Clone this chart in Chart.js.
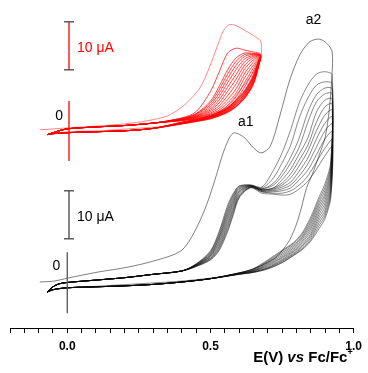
<!DOCTYPE html>
<html>
<head>
<meta charset="utf-8">
<script src="https://cdn.jsdelivr.net/npm/chart.js@4.4.1/dist/chart.umd.min.js"></script>
<style>
  html, body { margin: 0; padding: 0; background: #fff; }
  canvas { display: block; }
</style>
</head>
<body>
<canvas id="cv" width="368" height="373"></canvas>
<script>
// potentials in V vs Fc/Fc+, currents in µA

// first scan, black film
const blackFirstE = [-0.096, -0.045, 0.0, 0.11, 0.212, 0.315, 0.397, 0.442, 0.486, 0.521, 0.548, 0.579, 0.616, 0.651, 0.678, 0.709, 0.743, 0.777, 0.812, 0.846, 0.88, 0.908, 0.925,
  0.924, 0.915, 0.9, 0.88, 0.856, 0.835, 0.818, 0.8, 0.777, 0.75, 0.726, 0.69, 0.658, 0.6, 0.555, 0.5, 0.4, 0.3, 0.2, 0.1, 0.0, -0.05, -0.068];
const blackFirstI = [0, 0.2, 0.8, 2.1, 3.1, 4.6, 6.5, 10.2, 16.0, 22.3, 27.5, 31.0, 30.2, 27.9, 26.9, 28.3, 34.8, 42.1, 47.3, 50.0, 50.6, 49.6, 47.9,
  43, 36, 30, 26.5, 22.5, 19.5, 15.6, 12, 8.8, 6.5, 5.0, 3.8, 2.9, 1.8, 1.25, 0.8, 0.2, -0.2, -0.55, -0.9, -1.25, -1.6, -2.1];

// repeated scans, black: shared foot and tail, per-scan rise and fall
const blackFootE = [-0.07, -0.05, -0.03, 0.0, 0.1, 0.2, 0.3, 0.4];
const blackFootI = [-2.1, -1.0, -0.4, -0.1, 0.4, 0.9, 1.6, 2.3];
const blackRiseE = [0.45, 0.5, 0.53, 0.56, 0.58, 0.6, 0.64, 0.68, 0.72, 0.75, 0.78, 0.81, 0.84, 0.87, 0.9, 0.925];
const blackRise = [
  [3.8, 6.5, 10.5, 16.0, 18.5, 20.0, 20.2, 19.8, 23.3, 26.9, 31.7, 37.3, 41.0, 43.3, 43.8, 43.1],
  [3.7, 6.3, 10.1, 15.5, 18.2, 19.9, 20.2, 19.6, 21.7, 24.8, 28.5, 34.2, 38.3, 41.0, 41.7, 41.3],
  [3.7, 6.1, 9.7, 15.0, 17.9, 19.7, 20.1, 19.4, 20.6, 22.9, 26.0, 30.0, 35.4, 39.0, 40.4, 40.2],
  [3.6, 5.9, 9.3, 14.5, 17.5, 19.5, 20.1, 19.4, 20.2, 22.1, 24.8, 28.1, 33.3, 37.5, 39.2, 39.2],
  [3.6, 5.7, 9.0, 14.0, 17.1, 19.3, 20.0, 19.2, 19.6, 21.3, 23.5, 26.7, 30.0, 35.4, 37.9, 38.1],
  [3.5, 5.5, 8.6, 13.5, 16.7, 19.0, 20.0, 19.2, 19.6, 20.6, 22.5, 25.4, 28.5, 33.3, 36.5, 37.1],
  [3.5, 5.4, 8.2, 13.0, 16.3, 18.8, 19.9, 19.2, 19.4, 20.2, 21.7, 24.2, 27.3, 31.5, 34.8, 35.8],
  [3.4, 5.2, 7.8, 12.4, 15.8, 18.5, 19.9, 19.0, 19.2, 19.8, 20.8, 23.1, 25.8, 29.8, 33.1, 34.4],
  [3.4, 5.0, 7.4, 11.9, 15.3, 18.2, 19.8, 19.0, 19.0, 19.4, 20.2, 22.1, 24.6, 28.1, 31.5, 32.9],
  [3.3, 4.9, 7.1, 11.4, 14.9, 17.9, 19.7, 18.8, 18.8, 19.0, 19.6, 21.3, 23.3, 26.5, 29.8, 31.3],
  [3.3, 4.7, 6.8, 10.9, 14.4, 17.7, 19.7, 18.8, 18.5, 18.5, 19.0, 20.2, 22.1, 25.0, 27.9, 29.6],
  [3.2, 4.6, 6.5, 10.5, 14.0, 17.5, 19.6, 18.5, 18.3, 18.1, 18.3, 19.4, 21.0, 23.5, 26.3, 28.1]
];
const blackFallE = [0.92, 0.9, 0.88, 0.85, 0.82, 0.79, 0.75, 0.7, 0.65, 0.6];
const blackFall = [
  [25.0, 20.5, 17.8, 13.5, 10.2, 8.2, 6.6, 4.6, 2.8, 1.9],
  [24.3, 19.8, 17.2, 13.0, 9.9, 8.0, 6.4, 4.4, 2.7, 1.9],
  [23.6, 19.1, 16.6, 12.5, 9.5, 7.7, 6.1, 4.2, 2.6, 1.9],
  [23.0, 18.4, 16.0, 12.0, 9.2, 7.4, 5.8, 4.0, 2.5, 1.8],
  [22.3, 17.8, 15.4, 11.5, 8.9, 7.1, 5.5, 3.8, 2.4, 1.8],
  [21.6, 17.1, 14.8, 11.0, 8.5, 6.8, 5.2, 3.6, 2.3, 1.8],
  [20.9, 16.4, 14.2, 10.5, 8.2, 6.5, 5.0, 3.4, 2.3, 1.7],
  [20.2, 15.7, 13.6, 10.0, 7.8, 6.3, 4.7, 3.2, 2.2, 1.7],
  [19.5, 15.0, 13.0, 9.6, 7.5, 6.0, 4.5, 3.0, 2.1, 1.7],
  [18.8, 14.4, 12.4, 9.2, 7.2, 5.8, 4.3, 2.9, 2.1, 1.6],
  [18.1, 13.8, 11.8, 8.8, 6.9, 5.6, 4.1, 2.8, 2.0, 1.6],
  [17.5, 13.2, 11.2, 8.5, 6.7, 5.5, 4.0, 2.7, 2.0, 1.6]
];
const blackTailE = [0.5, 0.4, 0.3, 0.2, 0.1, 0.0, -0.05, -0.07];
const blackTailI = [0.7, 0.0, -0.5, -0.8, -1.0, -1.2, -1.6, -2.1];

// first scan, red film
const redFirstE = [-0.096, -0.045, 0.0, 0.11, 0.202, 0.281, 0.349, 0.397, 0.435, 0.466, 0.493, 0.51, 0.527, 0.545, 0.565, 0.589, 0.623, 0.651, 0.675,
  0.678, 0.676, 0.651, 0.613, 0.555, 0.503, 0.452, 0.349, 0.212, 0.11, 0.0, -0.068];
const redFirstI = [0, 0.2, 0.4, 0.8, 1.25, 1.9, 2.9, 4.6, 6.7, 9.0, 12.5, 15.2, 17.9, 20.6, 21.9, 21.7, 20.6, 19.6, 18.5,
  16.7, 15.2, 12.1, 9.0, 4.8, 2.9, 1.9, 0.8, 0.2, -0.2, -0.4, -1.0];

// repeated scans, red
const redFootE = [-0.07, -0.04, 0.0, 0.1, 0.2, 0.3];
const redFootI = [-1.0, -0.4, 0.2, 0.6, 0.9, 1.4];
const redRiseE = [0.4, 0.45, 0.5, 0.53, 0.56, 0.59, 0.62, 0.65, 0.675];
const redRise = [
  [2.5, 3.8, 8.0, 12.0, 16.0, 17.0, 16.6, 16.2, 15.8],
  [2.4, 3.4, 6.0, 9.0, 12.5, 15.0, 16.0, 15.9, 15.6],
  [2.35, 3.3, 5.6, 8.3, 11.6, 14.3, 15.7, 15.8, 15.6],
  [2.3, 3.2, 5.2, 7.6, 10.7, 13.5, 15.3, 15.7, 15.5],
  [2.25, 3.0, 4.8, 6.9, 9.8, 12.6, 14.8, 15.5, 15.5],
  [2.2, 2.9, 4.4, 6.2, 8.9, 11.6, 14.2, 15.3, 15.4],
  [2.15, 2.8, 4.1, 5.6, 8.0, 10.6, 13.5, 15.0, 15.4],
  [2.1, 2.7, 3.8, 5.0, 7.1, 9.6, 12.7, 14.6, 15.3],
  [2.05, 2.6, 3.5, 4.5, 6.3, 8.6, 11.8, 14.1, 15.3],
  [2.0, 2.5, 3.3, 4.1, 5.6, 7.7, 10.9, 13.5, 15.2],
  [1.95, 2.4, 3.1, 3.8, 5.0, 6.9, 9.9, 12.9, 15.1],
  [1.9, 2.3, 2.9, 3.5, 4.5, 6.3, 9.0, 12.3, 15.0]
];
const redFallE = [0.67, 0.65, 0.62, 0.59, 0.56, 0.53, 0.5, 0.45, 0.4];
const redFall = [
  [14.8, 11.5, 8.3, 6.3, 4.7, 3.7, 3.0, 2.2, 1.6],
  [14.6, 11.3, 8.1, 6.2, 4.6, 3.6, 2.9, 2.2, 1.6],
  [14.5, 11.1, 8.0, 6.0, 4.5, 3.5, 2.8, 2.1, 1.5],
  [14.4, 10.9, 7.8, 5.9, 4.4, 3.5, 2.8, 2.1, 1.5],
  [14.3, 10.7, 7.6, 5.7, 4.3, 3.4, 2.7, 2.0, 1.5],
  [14.2, 10.5, 7.5, 5.6, 4.2, 3.3, 2.6, 2.0, 1.4],
  [14.1, 10.3, 7.3, 5.4, 4.1, 3.2, 2.6, 1.9, 1.4],
  [14.0, 10.1, 7.1, 5.3, 4.0, 3.2, 2.5, 1.9, 1.4],
  [13.9, 9.9, 7.0, 5.1, 3.9, 3.1, 2.5, 1.9, 1.3],
  [13.8, 9.8, 6.8, 5.0, 3.8, 3.0, 2.4, 1.8, 1.3],
  [13.7, 9.6, 6.7, 4.9, 3.7, 2.9, 2.3, 1.8, 1.3],
  [13.6, 9.5, 6.6, 4.8, 3.6, 2.9, 2.3, 1.7, 1.2]
];
const redTailE = [0.3, 0.2, 0.1, 0.0, -0.05, -0.07];
const redTailI = [0.3, -0.2, -0.4, -0.6, -0.8, -1.0];

// the red set is stacked above the black one
const redShift = 31.7;

function loop(E, I, shift) {
  return E.map((e, k) => ({ x: e, y: I[k] + shift }));
}

const datasets = [];
blackRise.forEach((rise, c) => {
  const E = [...blackFootE, ...blackRiseE, ...blackFallE, ...blackTailE];
  const I = [...blackFootI, ...rise, ...blackFall[c], ...blackTailI];
  datasets.push({ data: loop(E, I, 0), borderColor: 'rgba(10,10,10,0.75)', borderWidth: 0.65 });
});
datasets.push({ data: loop(blackFirstE, blackFirstI, 0), borderColor: 'rgba(40,40,40,0.85)', borderWidth: 0.7 });
redRise.forEach((rise, c) => {
  const E = [...redFootE, ...redRiseE, ...redFallE, ...redTailE];
  const I = [...redFootI, ...rise, ...redFall[c], ...redTailI];
  datasets.push({ data: loop(E, I, redShift), borderColor: 'rgba(255,0,0,0.8)', borderWidth: 0.9 });
});
datasets.push({ data: loop(redFirstE, redFirstI, redShift), borderColor: 'rgba(255,40,40,0.8)', borderWidth: 0.7 });

const FONT = 'Arial, "Liberation Sans", sans-serif';

// scale bars, zero marks, peak labels and the axis title
const annotate = {
  id: 'annotate',
  afterDraw(chart) {
    const { ctx, chartArea } = chart;
    const px = e => chart.scales.x.getPixelForValue(e);
    const py = i => chart.scales.y.getPixelForValue(i);
    ctx.save();

    const vline = (e, a, b, color, w) => {
      ctx.strokeStyle = color; ctx.lineWidth = w;
      ctx.beginPath(); ctx.moveTo(px(e), py(a)); ctx.lineTo(px(e), py(b)); ctx.stroke();
    };
    const bar = (e, lo, hi, color) => {
      vline(e, lo, hi, color, 1.3);
      ctx.strokeStyle = '#444'; ctx.lineWidth = 1.3;
      [lo, hi].forEach(v => {
        ctx.beginPath(); ctx.moveTo(px(e) - 5, py(v)); ctx.lineTo(px(e) + 5, py(v)); ctx.stroke();
      });
    };

    vline(0, 6.2, -6.5, '#555', 1.3);
    vline(0.006, redShift + 6.0, redShift - 6.5, '#ff0000', 1.3);
    bar(0.006, 9, 19, '#444');
    bar(0.006, redShift + 12.5, redShift + 22.5, '#ff0000');

    ctx.textBaseline = 'middle';
    ctx.font = '14px ' + FONT;
    ctx.fillStyle = '#000';
    ctx.textAlign = 'center';
    ctx.fillText('0', px(-0.038), py(3.3));
    ctx.fillText('0', px(-0.028), py(redShift + 2.9));
    ctx.fillText('a1', px(0.623), py(33.3));
    ctx.fillText('a2', px(0.86), py(54.6));

    ctx.textAlign = 'left';
    ctx.fillText('10 \u03bcA', px(0.034), py(13.5));
    ctx.fillStyle = '#ff0000';
    ctx.fillText('10 \u03bcA', px(0.034), py(redShift + 17.1));

    // E(V) vs Fc/Fc+
    const parts = [['E(V) ', 'bold 15px '], ['vs', 'italic bold 15px '], [' Fc/Fc', 'bold 15px ']];
    const supFont = 'bold 9px ' + FONT;
    let w = 0;
    parts.forEach(([t, f]) => { ctx.font = f + FONT; w += ctx.measureText(t).width; });
    ctx.font = supFont; const supW = ctx.measureText('+').width;
    let tx = chartArea.right - 1 - w - supW;
    const ty = chartArea.bottom + 34;
    ctx.fillStyle = '#000';
    ctx.textBaseline = 'alphabetic';
    parts.forEach(([t, f]) => {
      ctx.font = f + FONT; ctx.fillText(t, tx, ty); tx += ctx.measureText(t).width;
    });
    ctx.font = supFont; ctx.fillText('+', tx, ty - 7);
    ctx.restore();
  }
};

new Chart('cv', {
  type: 'scatter',
  data: { datasets: datasets.map(d => Object.assign({ showLine: true, pointRadius: 0, tension: 0.3, fill: false }, d)) },
  options: {
    responsive: false,
    animation: false,
    events: [],
    layout: { padding: { left: 10, right: 9, top: 5, bottom: 0 } },
    plugins: { legend: { display: false }, tooltip: { enabled: false } },
    scales: {
      x: {
        type: 'linear', min: -0.2, max: 1.0,
        afterFit(scale) { scale.height = 45; },
        grid: { drawOnChartArea: false, tickLength: 5, color: '#000', tickWidth: 1 },
        border: { color: '#000', width: 1 },
        ticks: {
          stepSize: 0.05, autoSkip: false, maxRotation: 0, padding: 6, color: '#000',
          font: { family: FONT, size: 12, weight: 'bold' },
          callback(v) {
            const r = Math.round(v * 100);
            if (r % 50 !== 0) return '';
            return (r / 100).toFixed(1);
          }
        }
      },
      y: { type: 'linear', display: false, min: -9.58, max: 57.7 }
    }
  },
  plugins: [annotate]
});
</script>
</body>
</html>
